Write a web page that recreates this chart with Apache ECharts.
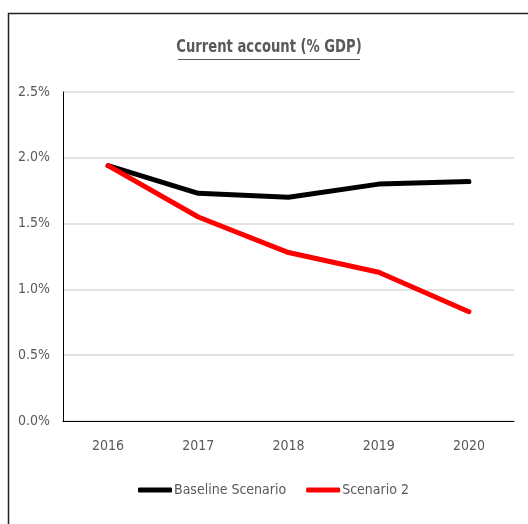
<!DOCTYPE html>
<html><head><meta charset="utf-8">
<script src="https://cdn.jsdelivr.net/npm/echarts@6/dist/echarts.min.js"></script>
<style>html,body{margin:0;padding:0;background:#fff}#c{width:528px;height:524px}</style>
</head><body><div id="c"></div>
<script>
const categories = ['2016','2017','2018','2019','2020'];
const baseline = [1.94, 1.73, 1.70, 1.80, 1.82];
const scenario2 = [1.94, 1.55, 1.28, 1.13, 0.83];
const seriesNames = ['Baseline Scenario', 'Scenario 2'];
const titleText = 'Current account (% GDP)';
const FONT = '"DejaVu Sans Condensed", sans-serif';

const chart = echarts.init(document.getElementById('c'));
chart.setOption({
  animation: false,
  backgroundColor: '#fff',
  graphic: [
    { type: 'rect', shape: { x: 8.5, y: 13.5, width: 540, height: 540 }, style: { fill: 'none', stroke: '#222', lineWidth: 1.5 }, silent: true },
    { type: 'text', x: 269, y: 48, scaleX: 0.86, silent: true,
      style: { text: titleText, align: 'center', verticalAlign: 'middle', fontFamily: FONT,
        fontSize: 17, fontWeight: 'bold', fill: '#595959' } },
    { type: 'line', shape: { x1: 178, y1: 59.5, x2: 360, y2: 59.5 }, style: { stroke: '#595959', lineWidth: 1 }, silent: true }
  ],
  grid: { left: 63, right: 14, top: 92, bottom: 103 },
  legend: {
    data: seriesNames, bottom: 22, left: 133, itemGap: 20,
    icon: 'roundRect', itemWidth: 34, itemHeight: 5,
    textStyle: { fontFamily: FONT, fontSize: 14, color: '#595959', padding: [0, 0, 0, -3] }
  },
  xAxis: {
    type: 'category', data: categories, boundaryGap: true,
    axisLine: { lineStyle: { color: '#000', width: 1 } },
    axisTick: { show: false },
    axisLabel: { margin: 18, fontFamily: FONT, fontSize: 14, color: '#595959' }
  },
  yAxis: {
    type: 'value', min: 0, max: 2.5, interval: 0.5,
    axisLine: { show: true, lineStyle: { color: '#000', width: 1 } },
    axisTick: { show: false },
    splitLine: { lineStyle: { color: '#d9d9d9', width: 1.5 } },
    axisLabel: { margin: 13, fontFamily: FONT, fontSize: 14, color: '#595959',
      formatter: v => v.toFixed(1) + '%' }
  },
  series: [
    { name: seriesNames[0], type: 'line', data: baseline, symbol: 'none',
      lineStyle: { color: '#000', width: 5, cap: 'round' }, itemStyle: { color: '#000' } },
    { name: seriesNames[1], type: 'line', data: scenario2, symbol: 'none',
      lineStyle: { color: '#ff0000', width: 5, cap: 'round' }, itemStyle: { color: '#ff0000' } }
  ]
});
</script></body></html>
